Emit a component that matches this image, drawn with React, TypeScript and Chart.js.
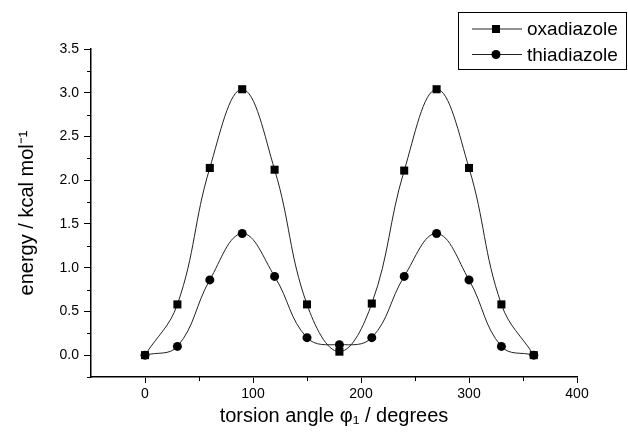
import { useEffect, useRef } from "react";
import { Chart, registerables } from "chart.js";

Chart.register(...registerables);

const angles = [0, 30, 60, 90, 120, 150, 180, 210, 240, 270, 300, 330, 360];
const oxadiazole = [0.0, 0.58, 2.14, 3.04, 2.12, 0.58, 0.04, 0.59, 2.11, 3.04, 2.14, 0.58, 0.0];
const thiadiazole = [0.0, 0.1, 0.86, 1.39, 0.9, 0.2, 0.12, 0.2, 0.9, 1.39, 0.86, 0.1, 0.0];
const seriesNames = ["oxadiazole", "thiadiazole"];
const xMajorTicks = [0, 100, 200, 300, 400];
const xMinorTicks = [50, 150, 250, 350];
const yMajorTicks = [0, 0.5, 1.0, 1.5, 2.0, 2.5, 3.0, 3.5];
const yMinorTicks = [-0.25, 0.25, 0.75, 1.25, 1.75, 2.25, 2.75, 3.25];

const FONT = "'Liberation Sans', Arial, Helvetica, sans-serif";

const minorTicksPlugin = {
  id: "minorTicks",
  afterDraw(chart: any) {
    const { ctx } = chart;
    const xs = chart.scales.x;
    const ys = chart.scales.y;
    ctx.save();
    ctx.strokeStyle = "#000";
    ctx.lineWidth = 1;
    xMinorTicks.forEach((v) => {
      const px = Math.round(xs.getPixelForValue(v)) + 0.5;
      ctx.beginPath();
      ctx.moveTo(px, xs.top);
      ctx.lineTo(px, xs.top + 4);
      ctx.stroke();
    });
    yMinorTicks.forEach((v) => {
      const py = Math.round(ys.getPixelForValue(v)) + 0.5;
      ctx.beginPath();
      ctx.moveTo(ys.right, py);
      ctx.lineTo(ys.right - 4, py);
      ctx.stroke();
    });
    ctx.restore();
  },
};

const boxLegendPlugin = {
  id: "boxLegend",
  afterDraw(chart: any) {
    const { ctx } = chart;
    const left = 458;
    const top = 12;
    const w = 168;
    const h = 57;
    ctx.save();
    ctx.fillStyle = "#fff";
    ctx.fillRect(left, top, w, h);
    ctx.strokeStyle = "#000";
    ctx.lineWidth = 1;
    ctx.strokeRect(left + 0.5, top + 0.5, w, h);
    chart.data.datasets.forEach((ds: any, i: number) => {
      const y = top + 17 + i * 25.5;
      ctx.strokeStyle = ds.borderColor;
      ctx.lineWidth = 1;
      ctx.beginPath();
      ctx.moveTo(472, y);
      ctx.lineTo(522, y);
      ctx.stroke();
      ctx.fillStyle = "#000";
      if (ds.pointStyle === "rect") {
        ctx.fillRect(496 - 4, y - 4, 8, 8);
      } else {
        ctx.beginPath();
        ctx.arc(496, y, 4.5, 0, Math.PI * 2);
        ctx.fill();
      }
      ctx.fillStyle = "#000";
      ctx.font = `19px ${FONT}`;
      ctx.textBaseline = "middle";
      ctx.textAlign = "left";
      ctx.fillText(ds.label, 527, y + 1);
    });
    ctx.restore();
  },
};

export default function App() {
  const ref = useRef<HTMLCanvasElement | null>(null);

  useEffect(() => {
    document.body.style.margin = "0";
    const canvas = ref.current;
    if (!canvas) return;
    const chart = new Chart(canvas, {
      type: "line",
      data: {
        labels: angles,
        datasets: [
          {
            label: seriesNames[0],
            data: angles.map((a, i) => ({ x: a, y: oxadiazole[i] })),
            borderColor: "#222",
            borderWidth: 1,
            backgroundColor: "#000",
            pointStyle: "rect",
            pointRadius: 5.7,
            pointBorderWidth: 0,
            pointBackgroundColor: "#000",
            tension: 0.4,
            fill: false,
          },
          {
            label: seriesNames[1],
            data: angles.map((a, i) => ({ x: a, y: thiadiazole[i] })),
            borderColor: "#222",
            borderWidth: 1,
            backgroundColor: "#000",
            pointStyle: "circle",
            pointRadius: 4.5,
            pointBorderWidth: 0,
            pointBackgroundColor: "#000",
            tension: 0.4,
            fill: false,
          },
        ],
      },
      options: {
        responsive: false,
        animation: false,
        events: [],
        layout: { padding: { top: 49, right: 51, left: 0, bottom: 0 } },
        plugins: {
          legend: { display: false },
          tooltip: { enabled: false },
        },
        scales: {
          x: {
            type: "linear",
            min: -50,
            max: 400,
            afterBuildTicks: (s: any) => {
              s.ticks = xMajorTicks.map((v) => ({ value: v }));
            },
            afterFit: (s: any) => {
              s.height = 59;
            },
            grid: {
              drawOnChartArea: false,
              drawTicks: true,
              tickLength: 6,
              color: "#000",
              tickColor: "#000",
              lineWidth: 1,
            },
            border: { display: true, color: "#000", width: 1.5 },
            ticks: {
              color: "#000",
              font: { family: FONT, size: 14 },
              padding: 3,
              maxRotation: 0,
              autoSkip: false,
            },
            title: {
              display: true,
              text: "torsion angle φ₁ / degrees",
              color: "#000",
              font: { family: FONT, size: 20 },
              padding: { top: 0, bottom: 8 },
            },
          },
          y: {
            type: "linear",
            min: -0.25,
            max: 3.5,
            afterBuildTicks: (s: any) => {
              s.ticks = yMajorTicks.map((v) => ({ value: v }));
            },
            afterFit: (s: any) => {
              s.width = 91;
            },
            grid: {
              drawOnChartArea: false,
              drawTicks: true,
              tickLength: 7,
              color: "#000",
              tickColor: "#000",
              lineWidth: 1,
            },
            border: { display: true, color: "#000", width: 1.5 },
            ticks: {
              color: "#000",
              font: { family: FONT, size: 14 },
              padding: 5,
              callback: (v: any) => Number(v).toFixed(1),
            },
            title: {
              display: true,
              text: "energy / kcal mol⁻¹",
              color: "#000",
              font: { family: FONT, size: 20 },
              padding: { top: 15, bottom: 0 },
            },
          },
        },
      },
      plugins: [minorTicksPlugin, boxLegendPlugin],
    });
    return () => chart.destroy();
  }, []);

  return <canvas ref={ref} width={628} height={436} style={{ display: "block" }} />;
}
